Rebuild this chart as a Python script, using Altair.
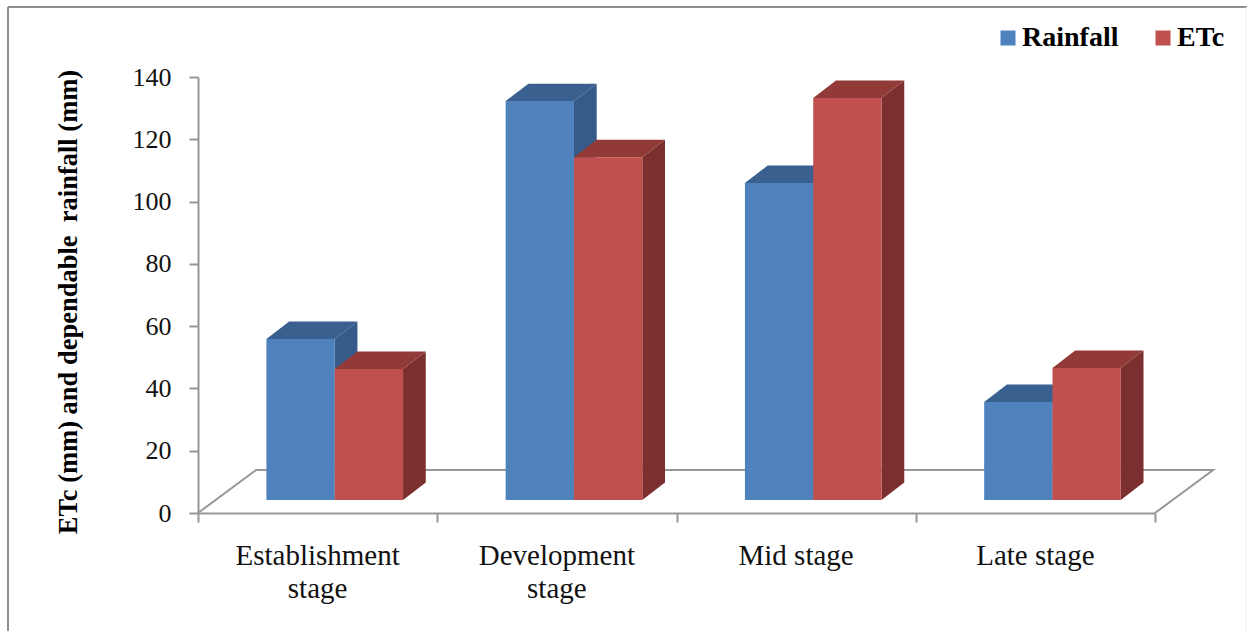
import altair as alt
import pandas as pd

# Stage names and series values (mm)
stages = ["Establishment\nstage", "Development\nstage", "Mid stage", "Late stage"]
rainfall = [51.7, 128.1, 101.8, 31.5]
etc = [42.1, 110.1, 129.1, 42.4]
y_ticks = [0, 20, 40, 60, 80, 100, 120, 140]
x_ticks = [0, 1, 2, 3, 4]

# Pseudo-3D projection, in axis units
BASE = 4.17            # height of the bar feet above the front floor edge
BAR_W = 0.2855         # bar width as a share of one stage
BAR_START = 0.286      # first bar's left edge within its stage
DEPTH_X, DEPTH_Y = 0.095, 5.6      # receding offset of a bar's side and top
FLOOR_X, FLOOR_Y = 0.243, 13.8     # receding offset of the floor

FONT = "Liberation Serif"
AXIS_GREY = "#979797"
FACES = {
    "Rainfall": {"side": "#375B88", "top": "#3A6090"},
    "ETc": {"side": "#7B2F2F", "top": "#923A38"},
}

x_scale = alt.Scale(domain=[0, 4], nice=False, zero=False)
y_scale = alt.Scale(domain=[0, 140], nice=False, zero=False)

# Every layer carries the same axis definitions so they merge into one pair of axes
x_axis = alt.Axis(
    values=x_ticks,
    labels=False,
    title=None,
    grid=False,
    domainColor=AXIS_GREY,
    domainWidth=2,
    tickColor=AXIS_GREY,
    tickWidth=2,
    tickSize=9,
)
y_axis = alt.Axis(
    values=y_ticks,
    title="ETc (mm) and dependable\u00a0 rainfall (mm)",
    titleFont=FONT,
    titleFontSize=26.5,
    titleFontWeight="bold",
    titleColor="#000000",
    titleX=-130,
    titleY=224.5,
    titleAngle=270,
    titleAlign="center",
    titleBaseline="middle",
    grid=False,
    domainColor=AXIS_GREY,
    domainWidth=2,
    tickColor=AXIS_GREY,
    tickWidth=2,
    tickSize=9,
    labelFont=FONT,
    labelFontSize=26,
    labelColor="#111111",
    labelPadding=18,
)
enc_x = alt.X("x:Q", scale=x_scale, axis=x_axis)
enc_y = alt.Y("y:Q", scale=y_scale, axis=y_axis)


def build_frames(series, values, slot):
    front, side, top = [], [], []
    for i, value in enumerate(values):
        left = i + BAR_START + slot * BAR_W
        right = left + BAR_W
        peak = BASE + value
        front.append({"series": series, "x": left, "x2": right, "y": BASE, "y2": peak})
        side.append({"key": i, "x": right, "y": BASE, "y2": peak})
        side.append({"key": i, "x": right + DEPTH_X, "y": BASE + DEPTH_Y, "y2": peak + DEPTH_Y})
        top.append({"key": i, "y": peak, "x": left, "x2": right})
        top.append({"key": i, "y": peak + DEPTH_Y, "x": left + DEPTH_X, "x2": right + DEPTH_X})
    return pd.DataFrame(front), pd.DataFrame(side), pd.DataFrame(top)


def series_layers(series, values, slot):
    front, side, top = build_frames(series, values, slot)
    side_layer = alt.Chart(side).mark_area(color=FACES[series]["side"]).encode(
        x=enc_x, y=enc_y, y2="y2:Q", detail="key:N"
    )
    top_layer = alt.Chart(top).mark_area(orient="horizontal", color=FACES[series]["top"]).encode(
        y=enc_y, x=enc_x, x2="x2:Q", detail="key:N"
    )
    front_layer = alt.Chart(front).mark_rect().encode(
        x=enc_x,
        x2="x2:Q",
        y=enc_y,
        y2="y2:Q",
        color=alt.Color(
            "series:N",
            scale=alt.Scale(domain=["Rainfall", "ETc"], range=["#4F81BD", "#C0504D"]),
            legend=alt.Legend(
                title=None,
                orient="none",
                direction="horizontal",
                legendX=796,
                legendY=-53,
                symbolType="square",
                symbolSize=225,
                symbolStrokeWidth=0,
                labelFont=FONT,
                labelFontSize=28,
                labelFontWeight="bold",
                labelColor="#000000",
                columnPadding=30,
                labelOffset=0,
            ),
        ),
    )
    return [side_layer, top_layer, front_layer]


# Floor outline
floor_df = pd.DataFrame(
    {
        "x": [0, FLOOR_X, 4 + FLOOR_X, 4],
        "y": [0, FLOOR_Y, FLOOR_Y, 0],
        "step": [0, 1, 2, 3],
    }
)
floor = alt.Chart(floor_df).mark_line(color=AXIS_GREY, strokeWidth=2).encode(
    x=enc_x, y=enc_y, order="step:Q"
)

# Stage labels under the floor
label_df = pd.DataFrame({"stage": stages, "x": [0.5, 1.5, 2.5, 3.5]})
labels = alt.Chart(label_df).mark_text(
    font=FONT,
    fontSize=29,
    color="#111111",
    align="center",
    baseline="alphabetic",
    lineBreak="\n",
    lineHeight=33,
).encode(
    x=enc_x,
    y=alt.value(488),
    text="stage:N",
)

# Outer picture frame
one_row = pd.DataFrame({"a": [0]})
frame_left = alt.Chart(one_row).mark_rule(color="#8E8E8E", strokeWidth=2).encode(
    x=alt.value(-190), y=alt.value(-70), y2=alt.value(554)
)
frame_top = alt.Chart(one_row).mark_rule(color="#8E8E8E", strokeWidth=2).encode(
    x=alt.value(-190), x2=alt.value(1049), y=alt.value(-70)
)
frame_right = alt.Chart(one_row).mark_rule(color="#EDEDED", strokeWidth=1).encode(
    x=alt.value(1048), y=alt.value(-70), y2=alt.value(554)
)

chart = alt.layer(
    frame_left,
    frame_top,
    frame_right,
    floor,
    *series_layers("Rainfall", rainfall, 0),
    *series_layers("ETc", etc, 1),
    labels,
).properties(
    width=957,
    height=436,
    padding={"left": 198, "right": 92, "top": 77, "bottom": 118},
    autosize=alt.AutoSizeParams(type="none"),
    background="white",
).configure_view(stroke=None)

chart.save("out.html", embed_options={"renderer": "svg", "actions": False})
